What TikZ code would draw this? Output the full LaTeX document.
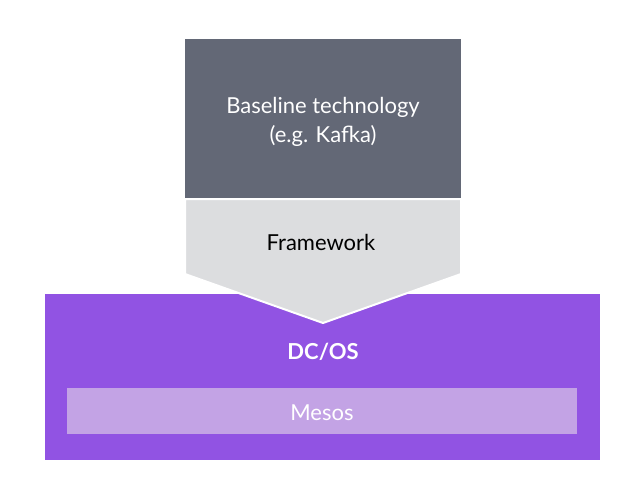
\documentclass[tikz,border=0pt]{standalone}
\usepackage{fontspec}
\setmainfont{Lato}
\usepackage{xcolor}
\usetikzlibrary{positioning}

\definecolor{slate}{HTML}{636876}
\definecolor{fwgray}{HTML}{DCDDDF}
\definecolor{dcpurple}{HTML}{9153E3}
\definecolor{mesoslilac}{HTML}{C3A3E5}

\begin{document}
\begin{tikzpicture}[
    x=1pt,
    y=-1pt,
    font=\fontsize{22}{29}\selectfont
]

\tikzstyle{layer}=[
    rectangle,
    inner sep=0pt,
    anchor=north west,
    align=center
]

\useasboundingbox (0,0) rectangle (632,490);

% platform
\node[layer, fill=dcpurple, minimum width=555, minimum height=166] (dcos) at (45,294) {};
\node[layer, fill=mesoslilac, minimum width=510, minimum height=46] (mesos) at (67,388) {};
\node[text=white] at (322,413) {Mesos};
\node[text=white, font=\fontsize{22}{29}\selectfont\bfseries] (dcoslabel) at (323,352) {DC/OS};

% framework arrow
\coordinate (fwtl) at (185,199);
\coordinate (fwtr) at (461,199);
\coordinate (fwr) at (461,274);
\coordinate (fwtip) at (323,323);
\coordinate (fwl) at (185,274);
\draw[fill=fwgray, draw=white, line width=2] (fwtl) -- (fwtr) -- (fwr) -- (fwtip) -- (fwl) -- cycle;
\node (framework) at (321,242) {Framework};

% baseline
\node[layer, fill=slate, text=white, minimum width=276, minimum height=159] (baseline) at (185,39) {};
\node[text=white, align=center] at (323,122) {Baseline technology\\(e.g. Kafka)};

\end{tikzpicture}
\end{document}
